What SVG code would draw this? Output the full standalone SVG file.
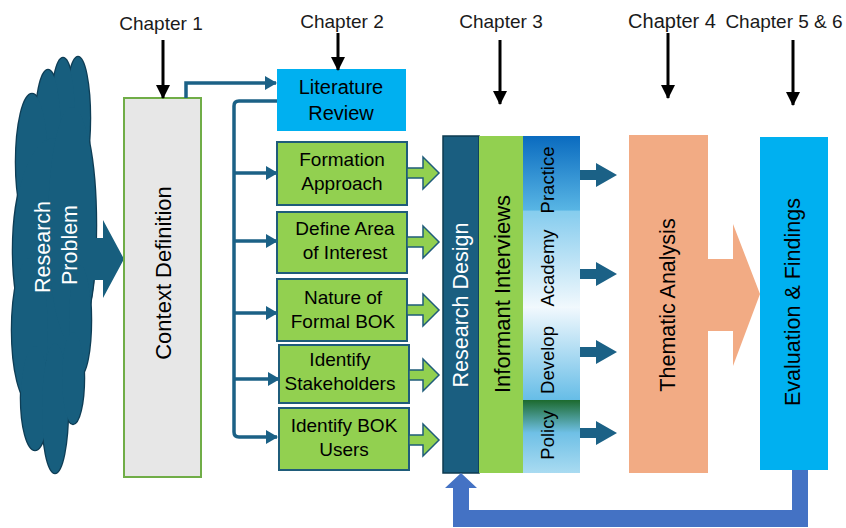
<svg xmlns="http://www.w3.org/2000/svg" width="846" height="528" viewBox="0 0 846 528">
  <style>
    text { font-family: "Liberation Sans", Arial, sans-serif; fill: #000; }
    .ch { font-size: 19px; text-anchor: middle; fill: #1a1a1a; }
    .box { font-size: 19px; text-anchor: middle; }
    .big { font-size: 21.5px; text-anchor: middle; dominant-baseline: central; }
    .sub { font-size: 18.5px; text-anchor: middle; dominant-baseline: central; }
    .white { fill: #fff; }
    .green { fill: #92D050; stroke: #1F5C7A; stroke-width: 2; }
    .garrow { fill: #92D050; stroke: #1F5C7A; stroke-width: 1.5; stroke-linejoin: miter; }
    .tarrow { fill: #1B6186; }
    .conn { fill: none; stroke: #1B6186; stroke-width: 3.5; }
    .chap { stroke: #000; stroke-width: 3; }
  </style>
  <defs>
    <marker id="tealHead" markerUnits="userSpaceOnUse" markerWidth="12" markerHeight="14" refX="11" refY="7" orient="auto">
      <path d="M0,0 L12,7 L0,14 Z" fill="#1B6186"/>
    </marker>
    <marker id="blackHead" markerUnits="userSpaceOnUse" markerWidth="14" markerHeight="14" refX="13" refY="7" orient="auto">
      <path d="M0,0 L14,7 L0,14 Z" fill="#000"/>
    </marker>
    <linearGradient id="gPractice" x1="0" y1="0" x2="0" y2="1">
      <stop offset="0" stop-color="#0A6BBF"/>
      <stop offset="0.9" stop-color="#58B5E4"/>
      <stop offset="0.92" stop-color="#86CDEE"/>
      <stop offset="1" stop-color="#8CCFEE"/>
    </linearGradient>
    <linearGradient id="gAcademy" x1="0" y1="0" x2="0" y2="1">
      <stop offset="0" stop-color="#8DCFEF"/>
      <stop offset="1" stop-color="#F2F9FD"/>
    </linearGradient>
    <linearGradient id="gDevelop" x1="0" y1="0" x2="0" y2="1">
      <stop offset="0" stop-color="#F0F8FD"/>
      <stop offset="1" stop-color="#66BDE7"/>
    </linearGradient>
    <linearGradient id="gPolicy" x1="0" y1="0" x2="0" y2="1">
      <stop offset="0" stop-color="#1C6A2E"/>
      <stop offset="0.45" stop-color="#6FC0E6"/>
      <stop offset="1" stop-color="#A9DBF1"/>
    </linearGradient>
    <!-- lobes of the research-problem cloud -->
    <g id="cloudLobes">
      <ellipse cx="78" cy="118" rx="12" ry="61"/>
      <ellipse cx="63" cy="118" rx="12" ry="60"/>
      <ellipse cx="48" cy="132" rx="13" ry="62"/>
      <ellipse cx="32" cy="162" rx="16" ry="68"/>
      <ellipse cx="54" cy="250" rx="41" ry="112"/>
      <ellipse cx="72" cy="225" rx="24" ry="118"/>
      <ellipse cx="30" cy="330" rx="18" ry="72"/>
      <ellipse cx="80" cy="320" rx="11" ry="55"/>
      <ellipse cx="35" cy="398" rx="14" ry="52"/>
      <ellipse cx="55" cy="408" rx="13" ry="65"/>
      <ellipse cx="73" cy="378" rx="11" ry="46"/>
    </g>
  </defs>

  <!-- Research problem cloud with block arrow -->
  <g id="research-problem">
    <use href="#cloudLobes" fill="#175E7E" stroke="#0E3D55" stroke-width="2.5"/>
    <use href="#cloudLobes" fill="#175E7E"/>
    <polygon points="90,238 103,238 103,220 124,259 103,298 103,280 90,280" fill="#175E7E"/>
    <text class="big white" transform="translate(43,247) rotate(-90)">Research</text>
    <text class="big white" transform="translate(70,245) rotate(-90)">Problem</text>
  </g>

  <!-- Context definition -->
  <g id="context-definition">
    <rect x="124" y="98" width="77" height="379" fill="#E7E7E7" stroke="#70AD47" stroke-width="2"/>
    <text class="big" style="font-size:22px" transform="translate(163,273) rotate(-90)">Context Definition</text>
  </g>

  <!-- Literature review -->
  <g id="literature-review">
    <rect x="277" y="69" width="129" height="62" fill="#00B0F0"/>
    <text class="box" style="font-size:20px" x="341" y="94">Literature</text>
    <text class="box" style="font-size:20px" x="341" y="120">Review</text>
  </g>

  <!-- Green activity boxes -->
  <g id="formation-approach">
    <rect class="green" x="277" y="142" width="130" height="63"/>
    <text class="box" x="342" y="166">Formation</text>
    <text class="box" x="342" y="190">Approach</text>
    <polygon class="garrow" points="407,168 423,168 423,157 439,173 423,189 423,178 407,178"/>
  </g>
  <g id="define-area">
    <rect class="green" x="277" y="212" width="130" height="61"/>
    <text class="box" x="345" y="235">Define Area</text>
    <text class="box" x="345" y="259">of Interest</text>
    <polygon class="garrow" points="407,237 423,237 423,226 439,242 423,258 423,247 407,247"/>
  </g>
  <g id="nature-bok">
    <rect class="green" x="277" y="279" width="130" height="62"/>
    <text class="box" x="343" y="304">Nature of</text>
    <text class="box" x="343" y="328">Formal BOK</text>
    <polygon class="garrow" points="407,305 423,305 423,294 439,310 423,326 423,315 407,315"/>
  </g>
  <g id="identify-stakeholders">
    <rect class="green" x="279" y="345" width="130" height="58"/>
    <text class="box" x="340" y="366">Identify</text>
    <text class="box" x="340" y="390">Stakeholders</text>
    <polygon class="garrow" points="409,370 423,370 423,359 439,375 423,391 423,380 409,380"/>
  </g>
  <g id="identify-users">
    <rect class="green" x="279" y="408" width="130" height="62"/>
    <text class="box" x="344" y="432">Identify BOK</text>
    <text class="box" x="344" y="456">Users</text>
    <polygon class="garrow" points="409,435 423,435 423,424 439,440 423,456 423,445 409,445"/>
  </g>

  <!-- Research design / interviews -->
  <g id="research-design">
    <rect x="443" y="136" width="36" height="337" fill="#1A5E80" stroke="#0E3B50" stroke-width="1.5"/>
    <text class="big white" transform="translate(461,305) rotate(-90)">Research Design</text>
  </g>
  <g id="informant-interviews">
    <rect x="479" y="136" width="44" height="337" fill="#92D050"/>
    <text class="big" style="font-size:22px" transform="translate(502,294) rotate(-90)">Informant Interviews</text>
  </g>
  <g id="practice">
    <rect x="523" y="136" width="57" height="82" fill="url(#gPractice)"/>
    <text class="sub" transform="translate(547,180) rotate(-90)">Practice</text>
    <polygon class="tarrow" points="580,170 596,170 596,163 617,175 596,187 596,180 580,180"/>
  </g>
  <g id="academy">
    <rect x="523" y="218" width="57" height="90" fill="url(#gAcademy)"/>
    <text class="sub" transform="translate(547,268) rotate(-90)">Academy</text>
    <polygon class="tarrow" points="580,269 596,269 596,262 617,274 596,286 596,279 580,279"/>
  </g>
  <g id="develop">
    <rect x="523" y="308" width="57" height="92" fill="url(#gDevelop)"/>
    <text class="sub" transform="translate(547,360) rotate(-90)">Develop</text>
    <polygon class="tarrow" points="580,347 596,347 596,340 617,352 596,364 596,357 580,357"/>
  </g>
  <g id="policy">
    <rect x="523" y="400" width="57" height="73" fill="url(#gPolicy)"/>
    <text class="sub" transform="translate(547,435) rotate(-90)">Policy</text>
    <polygon class="tarrow" points="580,428 596,428 596,421 617,433 596,445 596,438 580,438"/>
  </g>

  <!-- Thematic analysis -->
  <g id="thematic-analysis">
    <rect x="629" y="135" width="79" height="338" fill="#F2AB84"/>
    <polygon points="707,259 733,259 733,224 760,294 733,366 733,331 707,331" fill="#F2AB84"/>
    <text class="big" transform="translate(668,305) rotate(-90)">Thematic Analysis</text>
  </g>

  <!-- Evaluation & findings -->
  <g id="evaluation-findings">
    <rect x="760" y="137" width="68" height="333" fill="#00B0F0"/>
    <text class="big" transform="translate(793,302) rotate(-90)">Evaluation &amp; Findings</text>
  </g>

  <!-- Connectors -->
  <g id="connectors">
    <path class="conn" d="M186,98 V83 H276" marker-end="url(#tealHead)"/>
    <path class="conn" d="M277,101 H239 Q234,101 234,106 V432 Q234,437 239,437 H277" marker-end="url(#tealHead)"/>
    <path class="conn" d="M234,173 H277" marker-end="url(#tealHead)"/>
    <path class="conn" d="M234,241 H277" marker-end="url(#tealHead)"/>
    <path class="conn" d="M234,313 H277" marker-end="url(#tealHead)"/>
    <path class="conn" d="M234,379 H279" marker-end="url(#tealHead)"/>
    <!-- feedback loop back to research design -->
    <polygon points="453,488 453,527 808,527 808,470 792,470 792,510 469,510 469,488 477,488 461,473 445,488" fill="#4472C4"/>
    <!-- chapter markers -->
    <line class="chap" x1="163" y1="40" x2="163" y2="98" marker-end="url(#blackHead)"/>
    <line class="chap" x1="338" y1="33" x2="338" y2="70" marker-end="url(#blackHead)"/>
    <line class="chap" x1="500" y1="40" x2="500" y2="104" marker-end="url(#blackHead)"/>
    <line class="chap" x1="668" y1="33" x2="668" y2="98" marker-end="url(#blackHead)"/>
    <line class="chap" x1="793" y1="40" x2="793" y2="105" marker-end="url(#blackHead)"/>
  </g>

  <!-- Chapter labels -->
  <g id="chapter-labels">
    <text class="ch" x="161" y="30">Chapter 1</text>
    <text class="ch" x="342" y="28">Chapter 2</text>
    <text class="ch" x="501" y="28">Chapter 3</text>
    <text class="ch" style="font-size:20px" x="672" y="28">Chapter 4</text>
    <text class="ch" x="784" y="28">Chapter 5 &amp; 6</text>
  </g>
</svg>
